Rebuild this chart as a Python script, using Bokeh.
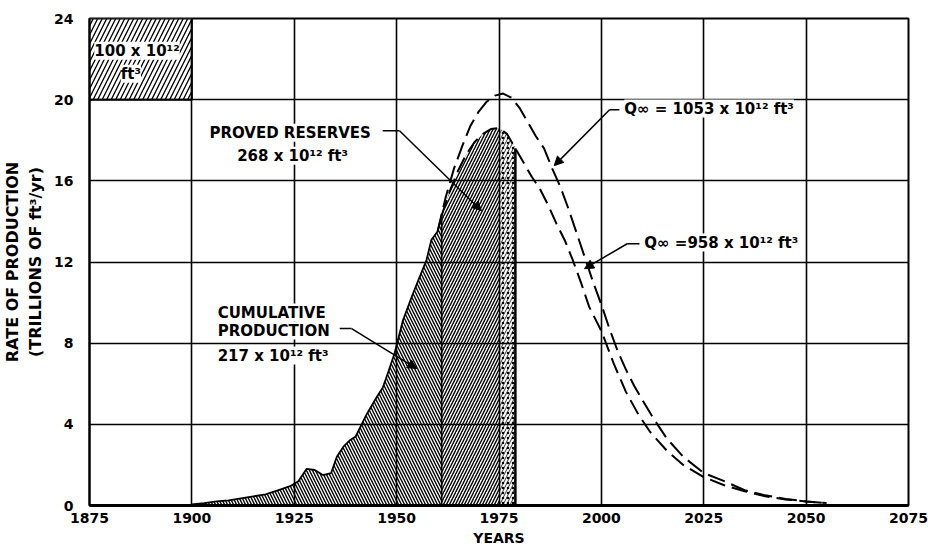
import numpy as np
from bokeh.plotting import figure
from bokeh.models import Range1d, FixedTicker, Label, Arrow, NormalHead
from bokeh.embed import file_html
from bokeh.resources import INLINE

# ---------------- data ----------------
year_ticks = [1875, 1900, 1925, 1950, 1975, 2000, 2025, 2050, 2075]
rate_ticks = [0, 4, 8, 12, 16, 20, 24]

# historic production (trillions of ft3 / yr)
hist_years = [1900, 1903, 1906, 1909, 1912, 1915, 1918, 1921, 1924, 1926, 1928,
              1930, 1932, 1934, 1935.4, 1937, 1938.5, 1940, 1942.7, 1945, 1946.6,
              1948, 1949.5, 1951.5, 1953.9, 1956.3, 1957.3, 1958.5, 1960]
hist_rate = [0.05, 0.12, 0.2, 0.25, 0.35, 0.45, 0.55, 0.75, 0.95, 1.2, 1.8,
             1.75, 1.5, 1.6, 2.4, 2.9, 3.2, 3.4, 4.5, 5.3, 5.8,
             6.6, 7.5, 9.1, 10.4, 11.6, 12.1, 13.1, 13.5]

# projected curve, Q_inf = 958 x 10^12 ft3
q958_years = [1961, 1963, 1965, 1967, 1969, 1971, 1973, 1975, 1977, 1979, 1981,
              1983, 1985, 1987, 1989, 1991, 1993, 1995, 1997, 2000, 2003, 2006,
              2009, 2012, 2016, 2020, 2025, 2030, 2035, 2040, 2045, 2050, 2055]
q958_rate = [14.3, 15.5, 16.5, 17.3, 17.9, 18.3, 18.55, 18.6, 18.3, 17.6, 16.9,
             16.2, 15.6, 14.8, 13.9, 13.1, 12.1, 11.0, 9.8, 8.6, 7.0, 5.6,
             4.5, 3.6, 2.7, 2.0, 1.4, 1.0, 0.7, 0.45, 0.3, 0.2, 0.12]

# projected curve, Q_inf = 1053 x 10^12 ft3
q1053_years = [1960, 1962, 1964, 1966, 1968, 1970, 1972, 1974, 1976, 1978, 1980,
               1982, 1984, 1986, 1988, 1990, 1992, 1994, 1996, 1998, 2000, 2002,
               2004, 2006, 2008, 2010, 2013, 2016, 2020, 2025, 2030, 2035, 2040,
               2045, 2050, 2055]
q1053_rate = [13.5, 15.2, 16.6, 17.7, 18.7, 19.4, 19.9, 20.2, 20.3, 20.1, 19.6,
              18.9, 18.2, 17.6, 16.6, 15.7, 14.6, 13.4, 12.2, 11.0, 9.9, 8.7,
              7.6, 6.7, 5.9, 5.2, 4.2, 3.3, 2.4, 1.6, 1.2, 0.75, 0.5,
              0.32, 0.2, 0.12]

# scale box: 25 yr x 4 tcf/yr = 100 x 10^12 ft3
scale_years = [1875, 1900]
scale_rate = [20, 24]

cum_end_year = 1961        # end of cumulative production
reserve_split_year = 1975  # start of stippled part
reserve_end_year = 1979    # end of proved reserves

# ---------------- figure ----------------
FONT = "DejaVu Sans"
p = figure(width=928, height=549, output_backend="svg", toolbar_location=None,
           x_range=Range1d(year_ticks[0], year_ticks[-1]),
           y_range=Range1d(rate_ticks[0], rate_ticks[-1]),
           min_border_left=89, min_border_right=20, min_border_top=18,
           min_border_bottom=44)
p.background_fill_color = "white"
p.border_fill_color = "white"
p.outline_line_color = "black"
p.outline_line_width = 2

p.xaxis.ticker = FixedTicker(ticks=year_ticks)
p.yaxis.ticker = FixedTicker(ticks=rate_ticks)
for ax in (p.xaxis[0], p.yaxis[0]):
    ax.major_tick_out = 0
    ax.major_tick_in = 0
    ax.minor_tick_out = 0
    ax.minor_tick_in = 0
    ax.axis_line_color = "black"
    ax.major_label_text_font = FONT
    ax.major_label_text_font_style = "bold"
    ax.major_label_text_font_size = "14px"
    ax.major_label_text_color = "black"
    ax.axis_label_text_font = FONT
    ax.axis_label_text_font_style = "bold"
    ax.axis_label_text_font_size = "14px"
    ax.axis_label_text_color = "black"

p.xaxis.axis_line_width = 3
p.yaxis.axis_line_width = 2
p.xaxis.major_label_standoff = 7
p.yaxis.major_label_standoff = 16
p.xaxis.axis_label = "YEARS"
p.xaxis.axis_label_standoff = 4
p.yaxis.axis_label = "RATE OF PRODUCTION\n(TRILLIONS OF ft³/yr)"
p.yaxis.axis_label_standoff = 6
p.yaxis.axis_label_text_font_size = "16px"

p.xgrid.ticker = FixedTicker(ticks=year_ticks)
p.ygrid.ticker = FixedTicker(ticks=rate_ticks)
for g in (p.xgrid[0], p.ygrid[0]):
    g.grid_line_color = "black"
    g.grid_line_width = 1.6
    g.level = "guide"

# ---------------- filled production area ----------------
fill_x = np.array(hist_years + [y for y in q958_years if y <= reserve_end_year], dtype=float)
fill_y = np.array(hist_rate + [r for y, r in zip(q958_years, q958_rate) if y <= reserve_end_year])

def part(a, b):
    m = (fill_x >= a) & (fill_x <= b)
    return fill_x[m], fill_y[m]

ax_, ay_ = part(hist_years[0], cum_end_year)
p.varea(x=ax_, y1=0, y2=ay_, fill_color="white", hatch_pattern="\\",
        hatch_color="black", hatch_scale=6, hatch_weight=1.4)
bx_, by_ = part(cum_end_year, reserve_end_year)
p.varea(x=bx_, y1=0, y2=by_, fill_color="white", hatch_pattern="/",
        hatch_color="black", hatch_scale=6, hatch_weight=1.4)
cx_, cy_ = part(reserve_split_year, reserve_end_year)
p.varea(x=cx_, y1=0, y2=cy_, fill_color="white", hatch_pattern="/",
        hatch_color="black", hatch_scale=7, hatch_weight=0.8)
p.varea(x=cx_, y1=0, y2=cy_, fill_alpha=0, hatch_pattern=".",
        hatch_color="black", hatch_scale=5, hatch_weight=1.2)

# outline of historic data and region dividers
p.line(ax_, ay_, line_color="black", line_width=1.8)
edge_years = [cum_end_year, reserve_end_year]
edge_top = list(np.interp(edge_years, fill_x, fill_y))
p.segment(x0=edge_years, y0=[0, 0], x1=edge_years, y1=edge_top,
          line_color="black", line_width=[1.6, 2.5])

# ---------------- projected curves ----------------
p.line(q1053_years, q1053_rate, line_color="black", line_width=2, line_dash="18 7")
p.line(q958_years, q958_rate, line_color="black", line_width=2, line_dash="16 7")

# ---------------- scale box ----------------
p.quad(left=scale_years[0], right=scale_years[1], bottom=scale_rate[0], top=scale_rate[1],
       fill_color="white", hatch_pattern="/", hatch_color="black", hatch_scale=9,
       hatch_weight=1.3, line_color="black", line_width=2)

# ---------------- annotations ----------------
def lab(x, y, text, align="center", size="15px", bg=True):
    l = Label(x=x, y=y, text=text, text_font=FONT, text_font_style="bold",
              text_font_size=size, text_align=align, text_baseline="middle",
              text_color="black")
    if bg:
        l.background_fill_color = "white"
        l.background_fill_alpha = 1.0
    p.add_layout(l)

lab(1886.6, 22.41, "100 x 10¹²")
lab(1885.1, 21.28, "ft³")
lab(1924.0, 18.37, "PROVED RESERVES")
lab(1924.6, 17.24, "268 x 10¹² ft³")
lab(1906.3, 9.51, "CUMULATIVE", align="left")
lab(1906.3, 8.62, "PRODUCTION", align="left")
lab(1906.3, 7.39, "217 x 10¹² ft³", align="left")
lab(2005.6, 19.56, "Q∞ = 1053 x 10¹² ft³", align="left")
lab(2010.5, 12.96, "Q∞ =958 x 10¹² ft³", align="left")

def leader(x0, y0, xb, x1, y1):
    p.line([x0, xb], [y0, y0], line_color="black", line_width=1.5)
    p.add_layout(Arrow(x_start=xb, y_start=y0, x_end=x1, y_end=y1,
                       line_color="black", line_width=1.5,
                       end=NormalHead(size=9, fill_color="black", line_color="black")))

leader(1946.6, 18.47, 1950.7, 1970.7, 14.53)
leader(1936.1, 8.72, 1939.0, 1954.9, 6.75)
leader(2004.4, 19.5, 2002.0, 1988.5, 16.75)
leader(2009.3, 12.9, 2006.3, 1995.9, 11.67)

open("out.html", "w").write(file_html(p, INLINE))
